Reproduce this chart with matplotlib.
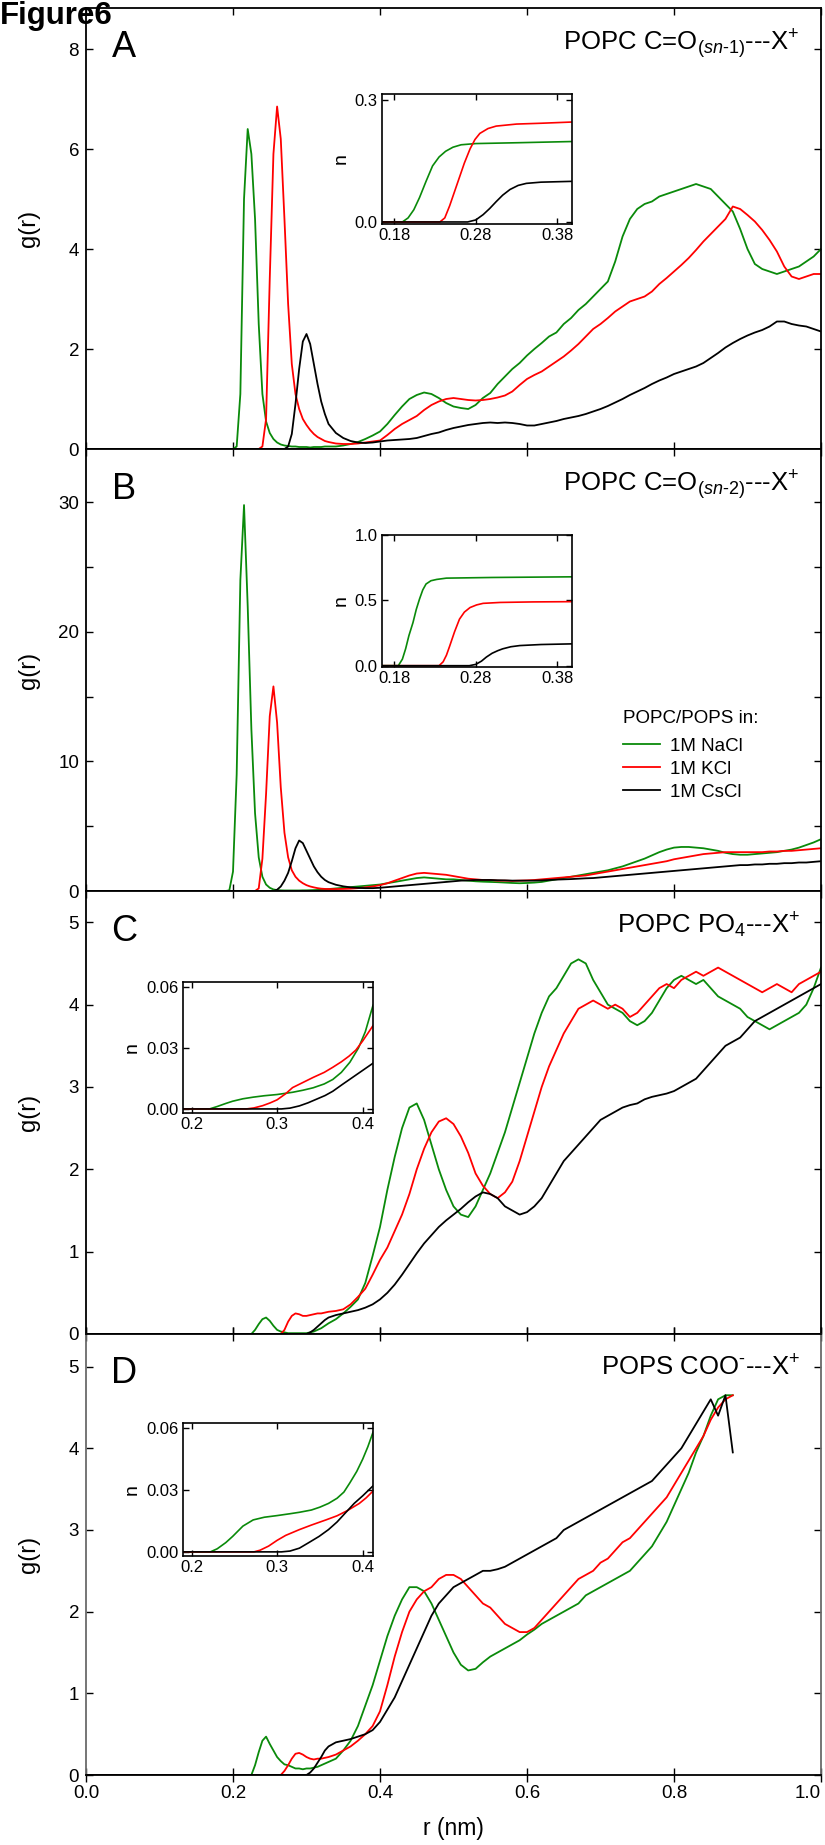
import numpy as np
import matplotlib
matplotlib.use('Agg')
import matplotlib.pyplot as plt
from matplotlib.ticker import MultipleLocator

plt.rcParams['font.family'] = ['Liberation Sans', 'DejaVu Sans']
plt.rcParams['mathtext.fontset'] = 'custom'
plt.rcParams['mathtext.rm'] = 'Liberation Sans'
plt.rcParams['mathtext.it'] = 'Liberation Sans:italic'
plt.rcParams['mathtext.bf'] = 'Liberation Sans:bold'

nan = np.nan

# ---------------- main g(r) data (common r grid, nm) ----------------
R = [0.00, 0.10, 0.18, 0.19,
     0.195, 0.200, 0.205, 0.210, 0.215, 0.220, 0.225, 0.230, 0.235, 0.240,
     0.245, 0.250, 0.255, 0.260, 0.265, 0.270, 0.275, 0.280, 0.285, 0.290,
     0.295, 0.300, 0.305, 0.310, 0.315, 0.320, 0.325, 0.330,
     0.34, 0.35, 0.36, 0.37, 0.38, 0.39, 0.40,
     0.41, 0.42, 0.43, 0.44, 0.45, 0.46, 0.47, 0.48, 0.49, 0.50,
     0.51, 0.52, 0.53, 0.54, 0.55, 0.56, 0.57, 0.58, 0.59, 0.60,
     0.61, 0.62, 0.63, 0.64, 0.65, 0.66, 0.67, 0.68, 0.69, 0.70,
     0.71, 0.72, 0.73, 0.74, 0.75, 0.76, 0.77, 0.78, 0.79, 0.80,
     0.81, 0.82, 0.83, 0.84, 0.85, 0.86, 0.87, 0.88, 0.89, 0.90,
     0.91, 0.92, 0.93, 0.94, 0.95, 0.96, 0.97, 0.98, 0.99, 1.00]

# Panel A: POPC C=O(sn-1)---X+
gA_na = [0, 0, 0, 0,
         0.0, 0.0, 0.05, 1.1, 5.0, 6.4, 5.9, 4.6, 2.5, 1.1,
         0.55, 0.32, 0.2, 0.13, 0.09, 0.07, 0.06, 0.05, 0.05, 0.04,
         0.04, 0.04, 0.03, 0.04, 0.04, 0.04, 0.05, 0.05,
         0.05, 0.07, 0.1, 0.14, 0.2, 0.27, 0.35,
         0.5, 0.68, 0.85, 1.0, 1.08, 1.13, 1.1, 1.02, 0.92, 0.85,
         0.82, 0.8, 0.88, 1.02, 1.12, 1.3, 1.45, 1.6, 1.72, 1.87,
         2.0, 2.12, 2.25, 2.33, 2.5, 2.62, 2.78, 2.9, 3.05, 3.2,
         3.35, 3.75, 4.25, 4.6, 4.8, 4.9, 4.95, 5.05, 5.1, 5.15,
         5.2, 5.25, 5.3, 5.25, 5.2, 5.05, 4.9, 4.75, 4.4, 4.0,
         3.7, 3.6, 3.55, 3.5, 3.55, 3.6, 3.65, 3.75, 3.85, 4.0]
gA_k = [0, 0, 0, 0,
        0, 0, 0, 0, 0, 0, 0, 0, 0, 0.05,
        0.6, 3.4, 5.9, 6.85, 6.2, 4.6, 2.9, 1.7, 1.1, 0.8,
        0.6, 0.48, 0.38, 0.3, 0.24, 0.2, 0.16, 0.14,
        0.11, 0.1, 0.1, 0.11, 0.13, 0.15, 0.17,
        0.28, 0.4, 0.5, 0.58, 0.66, 0.78, 0.88, 0.95, 1.0, 1.02,
        1.0, 0.98, 0.97, 0.98, 1.0, 1.03, 1.07, 1.15, 1.28, 1.4,
        1.48, 1.55, 1.65, 1.75, 1.85, 1.97, 2.1, 2.25, 2.4, 2.5,
        2.62, 2.75, 2.85, 2.95, 3.0, 3.05, 3.15, 3.3, 3.42, 3.55,
        3.68, 3.82, 3.98, 4.15, 4.3, 4.45, 4.6, 4.85, 4.8, 4.68,
        4.55, 4.38, 4.18, 3.95, 3.65, 3.45, 3.4, 3.45, 3.5, 3.5]
gA_cs = [0, 0, 0, 0,
         0, 0, 0, 0, 0, 0, 0, 0, 0, 0,
         0, 0, 0, 0, 0, 0, 0.05, 0.3, 0.9, 1.6,
         2.15, 2.3, 2.1, 1.7, 1.3, 0.95, 0.7, 0.5,
         0.32, 0.22, 0.16, 0.13, 0.12, 0.13, 0.15,
         0.17, 0.18, 0.19, 0.2, 0.22, 0.26, 0.3, 0.33, 0.38, 0.42,
         0.45, 0.48, 0.5, 0.52, 0.53, 0.52, 0.53, 0.52, 0.5, 0.47,
         0.47, 0.5, 0.53, 0.56, 0.6, 0.63, 0.66, 0.7, 0.75, 0.8,
         0.86, 0.93, 1.0, 1.08, 1.15, 1.22, 1.3, 1.37, 1.43, 1.5,
         1.55, 1.6, 1.65, 1.72, 1.82, 1.92, 2.03, 2.12, 2.2, 2.27,
         2.33, 2.38, 2.45, 2.55, 2.55, 2.5, 2.47, 2.45, 2.4, 2.35]

# Panel B: POPC C=O(sn-2)---X+
gB_na = [0, 0, 0, 0,
         0.05, 1.5, 9.0, 24.0, 29.8, 22.0, 12.5, 6.0, 2.6, 1.1,
         0.5, 0.25, 0.12, 0.07, 0.05, 0.04, 0.04, 0.04, 0.04, 0.04,
         0.05, 0.05, 0.06, 0.07, 0.08, 0.1, 0.12, 0.15,
         0.2, 0.25, 0.3, 0.35, 0.4, 0.45, 0.5,
         0.6, 0.7, 0.8, 0.9, 1.0, 1.05, 1.0, 0.95, 0.9, 0.9,
         0.85, 0.8, 0.75, 0.72, 0.7, 0.68, 0.65, 0.62, 0.6, 0.62,
         0.65, 0.7, 0.8, 0.9, 1.0, 1.1, 1.2, 1.3, 1.4, 1.5,
         1.6, 1.75, 1.9, 2.1, 2.3, 2.5, 2.75, 3.0, 3.2, 3.35,
         3.4, 3.4, 3.35, 3.3, 3.2, 3.1, 2.95, 2.85, 2.8, 2.8,
         2.85, 2.9, 2.95, 3.0, 3.1, 3.2, 3.35, 3.55, 3.75, 4.0]
gB_k = [0, 0, 0, 0,
        0, 0, 0, 0, 0, 0, 0, 0, 0.2, 2.5,
        7.5, 13.5, 15.8, 13.0, 8.0, 4.5, 2.6, 1.6, 1.1, 0.8,
        0.6, 0.45, 0.35, 0.28, 0.22, 0.18, 0.16, 0.15,
        0.15, 0.16, 0.18, 0.22, 0.28, 0.35, 0.45,
        0.6, 0.8, 1.0, 1.2, 1.35, 1.4, 1.35, 1.3, 1.25, 1.15,
        1.05, 0.95, 0.9, 0.85, 0.85, 0.8, 0.8, 0.78, 0.8, 0.82,
        0.85, 0.9, 0.95, 1.0, 1.05, 1.1, 1.15, 1.2, 1.3, 1.4,
        1.5, 1.6, 1.7, 1.8, 1.9, 2.0, 2.1, 2.2, 2.3, 2.45,
        2.55, 2.65, 2.75, 2.85, 2.9, 2.95, 3.0, 3.0, 3.0, 3.0,
        3.0, 3.0, 3.05, 3.05, 3.1, 3.1, 3.15, 3.2, 3.25, 3.3]
gB_cs = [0, 0, 0, 0,
         0, 0, 0, 0, 0, 0, 0, 0, 0, 0,
         0, 0, 0, 0.1, 0.35, 0.8, 1.4, 2.3, 3.3, 3.9,
         3.7, 3.1, 2.5, 1.9, 1.45, 1.1, 0.85, 0.68,
         0.48, 0.36, 0.28, 0.24, 0.22, 0.22, 0.25,
         0.3, 0.35, 0.4, 0.45, 0.5, 0.55, 0.6, 0.65, 0.7, 0.75,
         0.8, 0.82, 0.85, 0.85, 0.85, 0.83, 0.82, 0.8, 0.8, 0.8,
         0.8, 0.82, 0.85, 0.88, 0.9, 0.92, 0.95, 0.98, 1.0, 1.05,
         1.1, 1.15, 1.2, 1.25, 1.3, 1.35, 1.4, 1.45, 1.5, 1.55,
         1.6, 1.65, 1.7, 1.75, 1.8, 1.85, 1.9, 1.95, 2.0, 2.0,
         2.05, 2.05, 2.1, 2.1, 2.15, 2.15, 2.2, 2.2, 2.25, 2.3]

# Panel C: POPC PO4---X+
gC_na = [0, 0, 0, 0,
         0, 0, 0, 0, 0, 0, 0, 0.05, 0.12, 0.18,
         0.2, 0.16, 0.1, 0.05, 0.03, 0.02, 0.01, 0.01, 0.01, 0.01,
         0.01, 0.01, 0.02, 0.03, 0.05, 0.07, 0.1, 0.13,
         0.18, 0.25, 0.33, 0.42, 0.62, 0.95, 1.3,
         1.75, 2.15, 2.5, 2.75, 2.8, 2.6, 2.3, 2.0, 1.75, 1.55,
         1.45, 1.42, 1.55, 1.75, 1.95, 2.2, 2.45, 2.75, 3.05, 3.35,
         3.65, 3.9, 4.1, 4.2, 4.35, 4.5, 4.55, 4.5, 4.3, 4.15,
         4.0, 3.95, 3.9, 3.8, 3.75, 3.8, 3.9, 4.05, 4.2, 4.3,
         4.35, 4.3, 4.25, 4.3, 4.2, 4.1, 4.05, 4.0, 3.95, 3.85,
         3.8, 3.75, 3.7, 3.75, 3.8, 3.85, 3.9, 4.0, 4.2, 4.45]
gC_k = [0, 0, 0, 0,
        0, 0, 0, 0, 0, 0, 0, 0, 0, 0,
        0, 0, 0, 0, 0, 0.05, 0.15, 0.22, 0.25, 0.24,
        0.22, 0.22, 0.23, 0.24, 0.25, 0.25, 0.26, 0.27,
        0.28, 0.3, 0.36, 0.45, 0.55, 0.72, 0.9,
        1.05, 1.25, 1.45, 1.7, 2.0, 2.25, 2.45, 2.58, 2.62, 2.55,
        2.4, 2.2, 1.95, 1.8, 1.7, 1.65, 1.72, 1.85, 2.1, 2.4,
        2.7, 3.0, 3.25, 3.45, 3.65, 3.8, 3.95, 4.0, 4.05, 4.0,
        3.95, 4.0, 3.95, 3.85, 3.9, 4.0, 4.1, 4.2, 4.25, 4.2,
        4.3, 4.35, 4.4, 4.35, 4.4, 4.45, 4.4, 4.35, 4.3, 4.25,
        4.2, 4.15, 4.2, 4.25, 4.2, 4.15, 4.25, 4.3, 4.35, 4.4]
gC_cs = [0, 0, 0, 0,
         0, 0, 0, 0, 0, 0, 0, 0, 0, 0,
         0, 0, 0, 0, 0, 0, 0, 0, 0, 0,
         0, 0, 0.02, 0.05, 0.09, 0.13, 0.17, 0.2,
         0.23, 0.25, 0.27, 0.29, 0.32, 0.36, 0.42,
         0.5, 0.6, 0.72, 0.85, 0.98, 1.1, 1.2, 1.3, 1.38, 1.45,
         1.52, 1.6, 1.67, 1.72, 1.7, 1.65, 1.55, 1.5, 1.45, 1.48,
         1.55, 1.65, 1.8, 1.95, 2.1, 2.2, 2.3, 2.4, 2.5, 2.6,
         2.65, 2.7, 2.75, 2.78, 2.8, 2.85, 2.88, 2.9, 2.92, 2.95,
         3.0, 3.05, 3.1, 3.2, 3.3, 3.4, 3.5, 3.55, 3.6, 3.7,
         3.8, 3.85, 3.9, 3.95, 4.0, 4.05, 4.1, 4.15, 4.2, 4.25]

# Panel D: POPS COO- ---X+
gD_na = [0, 0, 0, 0,
         0, 0, 0, 0, 0, 0, 0, 0.12, 0.28, 0.42,
         0.47, 0.38, 0.3, 0.22, 0.17, 0.13, 0.12, 0.1, 0.08, 0.08,
         0.07, 0.08, 0.08, 0.09, 0.1, 0.12, 0.14, 0.16,
         0.2, 0.3, 0.42, 0.6, 0.85, 1.1, 1.4,
         1.7, 1.95, 2.15, 2.3, 2.3, 2.25, 2.1, 1.9, 1.7, 1.5,
         1.35, 1.28, 1.3, 1.38, 1.45, 1.5, 1.55, 1.6, 1.65, 1.72,
         1.78, 1.85, 1.9, 1.95, 2.0, 2.05, 2.1, 2.2, 2.25, 2.3,
         2.35, 2.4, 2.45, 2.5, 2.6, 2.7, 2.8, 2.95, 3.1, 3.3,
         3.5, 3.7, 3.95, 4.15, 4.4, 4.6, 4.65, 4.65, nan, nan,
         nan, nan, nan, nan, nan, nan, nan, nan, nan, nan]
gD_k = [0, 0, 0, 0,
        0, 0, 0, 0, 0, 0, 0, 0, 0, 0,
        0, 0, 0, 0, 0, 0.05, 0.12, 0.2, 0.26, 0.27,
        0.25, 0.22, 0.2, 0.19, 0.2, 0.2, 0.21, 0.22,
        0.25, 0.3, 0.35, 0.42, 0.5, 0.6, 0.78,
        1.1, 1.45, 1.75, 2.0, 2.15, 2.25, 2.3, 2.4, 2.45, 2.45,
        2.4, 2.3, 2.2, 2.1, 2.05, 1.95, 1.85, 1.8, 1.75, 1.75,
        1.8, 1.9, 2.0, 2.1, 2.2, 2.3, 2.4, 2.45, 2.5, 2.6,
        2.65, 2.75, 2.85, 2.9, 3.0, 3.1, 3.2, 3.3, 3.4, 3.55,
        3.7, 3.85, 4.0, 4.15, 4.35, 4.5, 4.6, 4.65, nan, nan,
        nan, nan, nan, nan, nan, nan, nan, nan, nan, nan]
gD_cs = [0, 0, 0, 0,
         0, 0, 0, 0, 0, 0, 0, 0, 0, 0,
         0, 0, 0, 0, 0, 0, 0, 0, 0, 0,
         0, 0, 0.03, 0.08, 0.15, 0.22, 0.3, 0.35,
         0.4, 0.42, 0.44, 0.47, 0.5, 0.55, 0.65,
         0.8, 0.95, 1.15, 1.35, 1.55, 1.75, 1.95, 2.1, 2.2, 2.3,
         2.35, 2.4, 2.45, 2.5, 2.5, 2.52, 2.55, 2.6, 2.65, 2.7,
         2.75, 2.8, 2.85, 2.9, 3.0, 3.05, 3.1, 3.15, 3.2, 3.25,
         3.3, 3.35, 3.4, 3.45, 3.5, 3.55, 3.6, 3.7, 3.8, 3.9,
         4.0, 4.15, 4.3, 4.45, 4.6, 4.4, 4.65, 3.95, nan, nan,
         nan, nan, nan, nan, nan, nan, nan, nan, nan, nan]

# ---------------- inset data: running coordination number n(r) ----------------
# Inset A
nA_na_r = [0.165, 0.19, 0.197, 0.204, 0.211, 0.219, 0.227, 0.235, 0.243, 0.252, 0.262, 0.28, 0.33, 0.398]
nA_na = [0, 0, 0.01, 0.03, 0.06, 0.10, 0.138, 0.16, 0.174, 0.184, 0.19, 0.193, 0.195, 0.198]
nA_k_r = [0.165, 0.236, 0.242, 0.248, 0.254, 0.26, 0.266, 0.273, 0.279, 0.285, 0.295, 0.305, 0.33, 0.36, 0.398]
nA_k = [0, 0, 0.01, 0.04, 0.075, 0.11, 0.145, 0.18, 0.203, 0.218, 0.23, 0.236, 0.241, 0.243, 0.246]
nA_cs_r = [0.165, 0.27, 0.28, 0.289, 0.297, 0.305, 0.313, 0.322, 0.332, 0.342, 0.36, 0.398]
nA_cs = [0, 0, 0.005, 0.018, 0.033, 0.05, 0.066, 0.08, 0.09, 0.095, 0.098, 0.1]
# Inset B
nB_na_r = [0.165, 0.185, 0.19, 0.194, 0.198, 0.203, 0.207, 0.211, 0.215, 0.219, 0.225, 0.232, 0.244, 0.30, 0.398]
nB_na = [0, 0, 0.05, 0.13, 0.23, 0.33, 0.43, 0.51, 0.58, 0.625, 0.65, 0.66, 0.67, 0.675, 0.68]
nB_k_r = [0.165, 0.235, 0.24, 0.244, 0.248, 0.254, 0.26, 0.266, 0.273, 0.281, 0.289, 0.31, 0.35, 0.398]
nB_k = [0, 0, 0.03, 0.08, 0.15, 0.26, 0.356, 0.41, 0.445, 0.465, 0.477, 0.484, 0.488, 0.49]
nB_cs_r = [0.165, 0.272, 0.28, 0.287, 0.293, 0.30, 0.307, 0.313, 0.323, 0.334, 0.36, 0.398]
nB_cs = [0, 0, 0.01, 0.035, 0.066, 0.095, 0.115, 0.129, 0.145, 0.154, 0.162, 0.167]
# Inset C
nC_na_r = [0.19, 0.221, 0.23, 0.24, 0.248, 0.26, 0.272, 0.285, 0.30, 0.318, 0.33, 0.342, 0.355, 0.365, 0.375, 0.385, 0.395, 0.403, 0.412]
nC_na = [0, 0, 0.0012, 0.0027, 0.0038, 0.005, 0.0058, 0.0065, 0.0071, 0.0082, 0.0092, 0.0104, 0.0123, 0.0145, 0.018, 0.023, 0.030, 0.038, 0.051]
nC_k_r = [0.19, 0.264, 0.273, 0.283, 0.292, 0.30, 0.31, 0.318, 0.33, 0.342, 0.355, 0.365, 0.375, 0.384, 0.392, 0.40, 0.412]
nC_k = [0, 0, 0.0005, 0.0016, 0.003, 0.0045, 0.0075, 0.0105, 0.013, 0.0155, 0.018, 0.0205, 0.0232, 0.026, 0.029, 0.0335, 0.041]
nC_cs_r = [0.19, 0.305, 0.315, 0.326, 0.336, 0.346, 0.356, 0.365, 0.376, 0.388, 0.40, 0.412]
nC_cs = [0, 0, 0.0004, 0.0015, 0.003, 0.0048, 0.0066, 0.0087, 0.012, 0.0155, 0.019, 0.0225]
# Inset D
nD_na_r = [0.19, 0.222, 0.23, 0.24, 0.248, 0.26, 0.272, 0.285, 0.30, 0.315, 0.326, 0.34, 0.35, 0.36, 0.37, 0.378, 0.385, 0.393, 0.40, 0.406, 0.412]
nD_na = [0, 0, 0.0015, 0.0045, 0.0075, 0.0125, 0.0155, 0.0168, 0.0176, 0.0185, 0.0192, 0.0203, 0.0217, 0.0235, 0.026, 0.029, 0.0335, 0.039, 0.045, 0.051, 0.058]
nD_k_r = [0.19, 0.273, 0.28, 0.29, 0.30, 0.31, 0.326, 0.34, 0.357, 0.37, 0.382, 0.396, 0.404, 0.412]
nD_k = [0, 0, 0.0008, 0.0028, 0.0056, 0.008, 0.0108, 0.013, 0.0155, 0.0175, 0.02, 0.0235, 0.0262, 0.0295]
nD_cs_r = [0.19, 0.305, 0.315, 0.326, 0.337, 0.349, 0.36, 0.37, 0.38, 0.39, 0.40, 0.412]
nD_cs = [0, 0, 0.0004, 0.0018, 0.0045, 0.0075, 0.0108, 0.0145, 0.019, 0.0235, 0.0272, 0.032]

series_labels = ['1M NaCl', '1M KCl', '1M CsCl']
legend_title = 'POPC/POPS in:'
panel_letters = ['A', 'B', 'C', 'D']
panel_titles = [r'POPC C=O$_{(sn\text{-}1)}$---X$^{+}$',
                r'POPC C=O$_{(sn\text{-}2)}$---X$^{+}$',
                r'POPC PO$_{4}$---X$^{+}$',
                r'POPS COO$^{\text{-}}$---X$^{+}$']

GREEN = '#0a8a0a'
RED = '#ff0000'
BLACK = '#000000'
COLORS = [GREEN, RED, BLACK]

# ---------------- figure / layout ----------------
W, H = 825, 1845
fig = plt.figure(figsize=(W / 100, H / 100), dpi=100)


def box(x0, y0, x1, y1):
    return [x0 / W, 1 - y1 / H, (x1 - x0) / W, (y1 - y0) / H]


main_boxes = [box(86, 8, 821, 449), box(86, 449, 821, 891),
              box(86, 891, 821, 1334), box(86, 1334, 821, 1775)]
ytops = [8.82, 34.13, 5.38, 5.40]
ymajor = [2, 10, 1, 1]
data = [(gA_na, gA_k, gA_cs), (gB_na, gB_k, gB_cs),
        (gC_na, gC_k, gC_cs), (gD_na, gD_k, gD_cs)]

axes = []
for i in range(4):
    ax = fig.add_axes(main_boxes[i])
    axes.append(ax)
    handles = []
    for s, c, lab in zip(data[i], COLORS, series_labels):
        ln, = ax.plot(R, s, color=c, lw=1.3, label=lab)
        handles.append(ln)
    ax.set_xlim(0, 1.0)
    ax.set_ylim(0, ytops[i])
    ax.set_xticks([0.0, 0.2, 0.4, 0.6, 0.8, 1.0])
    ax.yaxis.set_major_locator(MultipleLocator(ymajor[i]))
    if i == 1:
        ax.yaxis.set_minor_locator(MultipleLocator(5))
    ax.tick_params(axis='both', which='both', direction='in', top=True, right=True,
                   length=5, width=1.0, labelsize=13.5, pad=5)
    if i == 3:
        ax.tick_params(axis='x', which='major', direction='inout', length=9.5, pad=2.5)
        ax.set_xticklabels(['0.0', '0.2', '0.4', '0.6', '0.8', '1.0'])
        ax.get_xticklabels()[-1].set_horizontalalignment('right')
        ax.set_xlabel('r (nm)', fontsize=16.5)
        ax.xaxis.set_label_coords(0.5, -0.095)
        for sp in ['left', 'right']:
            ax.spines[sp].set_color('#6a6a6a')
    else:
        ax.tick_params(axis='x', labelbottom=False)
    for sp in ax.spines.values():
        sp.set_linewidth(1.3)
    ax.set_ylabel('g(r)', fontsize=17)
    ax.yaxis.set_label_coords(-0.062, 0.5)
    ax.text(0.052, 0.888, panel_letters[i], transform=ax.transAxes,
            ha='center', va='baseline', fontsize=26)
    ax.text(0.971, 0.905, panel_titles[i], transform=ax.transAxes,
            ha='right', va='baseline', fontsize=18.5)
    if i == 1:
        ax.text(0.7306, 0.380, legend_title, transform=ax.transAxes,
                ha='left', va='baseline', fontsize=13.5)
        ax.legend(handles=handles, labels=series_labels,
                  loc='upper left', bbox_to_anchor=(0.7306, 0.347), frameon=False,
                  fontsize=13.5, handlelength=1.95,
                  handletextpad=0.55, labelspacing=0.31, borderpad=0,
                  borderaxespad=0)

# ---------------- insets ----------------
inset_boxes = [box(382, 94, 572, 224), box(382, 535, 572, 667),
               box(183, 982, 373, 1113), box(183, 1423, 373, 1556)]
inset_data = [((nA_na_r, nA_na), (nA_k_r, nA_k), (nA_cs_r, nA_cs)),
              ((nB_na_r, nB_na), (nB_k_r, nB_k), (nB_cs_r, nB_cs)),
              ((nC_na_r, nC_na), (nC_k_r, nC_k), (nC_cs_r, nC_cs)),
              ((nD_na_r, nD_na), (nD_k_r, nD_k), (nD_cs_r, nD_cs))]
inset_xlim = [(0.165, 0.398), (0.165, 0.398), (0.19, 0.412), (0.19, 0.412)]
inset_xticks = [[0.18, 0.28, 0.38], [0.18, 0.28, 0.38], [0.2, 0.3, 0.4], [0.2, 0.3, 0.4]]
inset_xlabels = [['0.18', '0.28', '0.38'], ['0.18', '0.28', '0.38'],
                 ['0.2', '0.3', '0.4'], ['0.2', '0.3', '0.4']]
inset_ylim = [(-0.005, 0.315), (-0.01, 1.0), (-0.002, 0.0625), (-0.002, 0.0625)]
inset_yticks = [[0.0, 0.3], [0.0, 0.5, 1.0], [0.0, 0.03, 0.06], [0.0, 0.03, 0.06]]
inset_ylabels = [['0.0', '0.3'], ['0.0', '0.5', '1.0'],
                 ['0.00', '0.03', '0.06'], ['0.00', '0.03', '0.06']]

for j in range(4):
    ins = fig.add_axes(inset_boxes[j])
    ins.set_facecolor('white')
    for (rr, nn), c in zip(inset_data[j], COLORS):
        ins.plot(rr, nn, color=c, lw=1.2)
    ins.set_xlim(*inset_xlim[j])
    ins.set_ylim(*inset_ylim[j])
    ins.set_xticks(inset_xticks[j])
    ins.set_xticklabels(inset_xlabels[j])
    ins.set_yticks(inset_yticks[j])
    ins.set_yticklabels(inset_ylabels[j])
    ins.tick_params(direction='in', top=True, right=True, length=4, width=1.0,
                    labelsize=12, pad=3)
    for sp in ins.spines.values():
        sp.set_linewidth(1.2)
    ins.set_ylabel('n', fontsize=14, labelpad=4)

fig.text(0.0, 1 - 24 / H, 'Figure6', ha='left', va='baseline',
         fontsize=22.5, fontweight='bold')

fig.savefig('out.png', dpi=100)
